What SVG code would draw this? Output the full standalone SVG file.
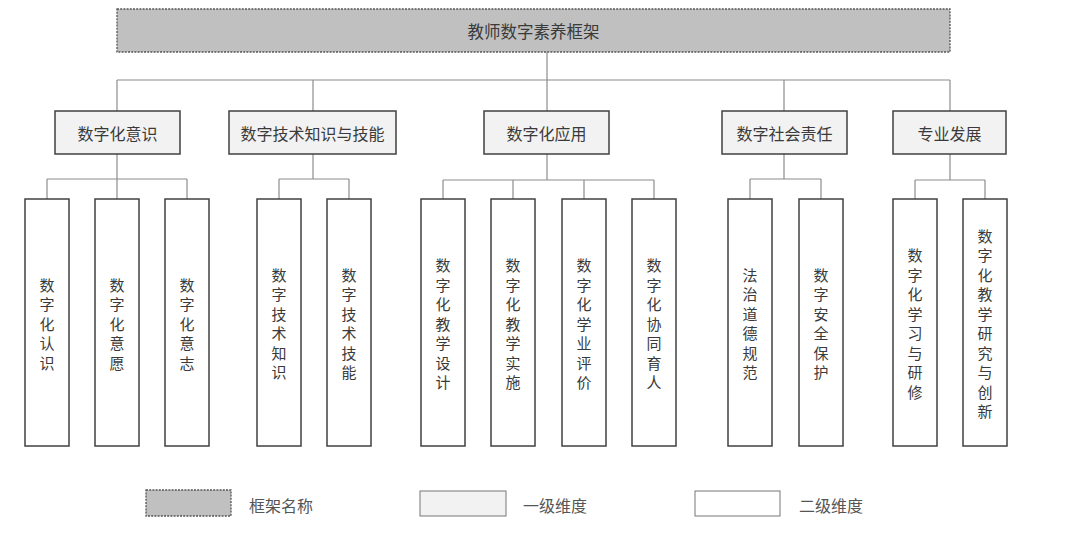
<svg xmlns="http://www.w3.org/2000/svg" width="1072" height="542" viewBox="0 0 1072 542">
<style>
.conn line{stroke:#8c8c8c;stroke-width:1.2;}
.top{fill:#c0c0c0;stroke:#555;stroke-width:1.3;stroke-dasharray:2 1.2;}
.l1{fill:#f2f2f2;stroke:#404040;stroke-width:1.5;}
.l2{fill:#fff;stroke:#404040;stroke-width:1.5;}
.lg1{fill:#f2f2f2;stroke:#777;stroke-width:1;}
.lg2{fill:#fff;stroke:#777;stroke-width:1;}
text{font-family:"Noto Sans CJK SC","Noto Sans CJK JP",sans-serif;fill:#3a3a3a;font-size:16px;}
.h{text-anchor:middle;dominant-baseline:central;}
.v{font-size:15px;text-anchor:middle;dominant-baseline:central;}
.lt{fill:#555;dominant-baseline:central;}
</style>
<rect width="1072" height="542" fill="#fff"/>
<g id="connectors" class="conn">
<line x1="547" y1="52" x2="547" y2="111"/>
<line x1="117" y1="80" x2="950" y2="80"/>
<line x1="117" y1="80" x2="117" y2="111"/>
<line x1="313" y1="80" x2="313" y2="111"/>
<line x1="784" y1="80" x2="784" y2="111"/>
<line x1="950" y1="80" x2="950" y2="111"/>
<line x1="117" y1="154" x2="117" y2="179"/>
<line x1="47" y1="179" x2="187" y2="179"/>
<line x1="47" y1="179" x2="47" y2="199"/>
<line x1="117" y1="179" x2="117" y2="199"/>
<line x1="187" y1="179" x2="187" y2="199"/>
<line x1="313" y1="154" x2="313" y2="179"/>
<line x1="279" y1="179" x2="349" y2="179"/>
<line x1="279" y1="179" x2="279" y2="199"/>
<line x1="349" y1="179" x2="349" y2="199"/>
<line x1="547" y1="154" x2="547" y2="180"/>
<line x1="443" y1="180" x2="654" y2="180"/>
<line x1="443" y1="180" x2="443" y2="199"/>
<line x1="513" y1="180" x2="513" y2="199"/>
<line x1="584" y1="180" x2="584" y2="199"/>
<line x1="654" y1="180" x2="654" y2="199"/>
<line x1="784" y1="154" x2="784" y2="179"/>
<line x1="750" y1="179" x2="821" y2="179"/>
<line x1="750" y1="179" x2="750" y2="199"/>
<line x1="821" y1="179" x2="821" y2="199"/>
<line x1="950" y1="154" x2="950" y2="180"/>
<line x1="915" y1="180" x2="985" y2="180"/>
<line x1="915" y1="180" x2="915" y2="199"/>
<line x1="985" y1="180" x2="985" y2="199"/>
</g>
<g id="root">
<rect class="top" x="117" y="9" width="833" height="43"/>
<text class="h" x="533.5" y="31" style="font-size:16.5px">教师数字素养框架</text>
</g>
<g id="d1">
<rect class="l1" x="55" y="111" width="125" height="43"/>
<text class="h" x="117.5" y="133">数字化意识</text>
</g>
<g id="d2">
<rect class="l1" x="229" y="111" width="167" height="43"/>
<text class="h" x="312.5" y="133">数字技术知识与技能</text>
</g>
<g id="d3">
<rect class="l1" x="484" y="111" width="125" height="43"/>
<text class="h" x="546.5" y="133">数字化应用</text>
</g>
<g id="d4">
<rect class="l1" x="722" y="111" width="125" height="43"/>
<text class="h" x="784.5" y="133">数字社会责任</text>
</g>
<g id="d5">
<rect class="l1" x="893" y="111" width="113" height="43"/>
<text class="h" x="949.5" y="133">专业发展</text>
</g>
<g id="s1">
<rect class="l2" x="25" y="199" width="44" height="247"/>
<text class="v"><tspan x="47" y="283.5">数</tspan><tspan x="47" y="303">字</tspan><tspan x="47" y="322.5">化</tspan><tspan x="47" y="342">认</tspan><tspan x="47" y="361.5">识</tspan></text>
</g>
<g id="s2">
<rect class="l2" x="95" y="199" width="44" height="247"/>
<text class="v"><tspan x="117" y="283.5">数</tspan><tspan x="117" y="303">字</tspan><tspan x="117" y="322.5">化</tspan><tspan x="117" y="342">意</tspan><tspan x="117" y="361.5">愿</tspan></text>
</g>
<g id="s3">
<rect class="l2" x="165" y="199" width="44" height="247"/>
<text class="v"><tspan x="187" y="283.5">数</tspan><tspan x="187" y="303">字</tspan><tspan x="187" y="322.5">化</tspan><tspan x="187" y="342">意</tspan><tspan x="187" y="361.5">志</tspan></text>
</g>
<g id="s4">
<rect class="l2" x="257" y="199" width="44" height="247"/>
<text class="v"><tspan x="279" y="273.75">数</tspan><tspan x="279" y="293.25">字</tspan><tspan x="279" y="312.75">技</tspan><tspan x="279" y="332.25">术</tspan><tspan x="279" y="351.75">知</tspan><tspan x="279" y="371.25">识</tspan></text>
</g>
<g id="s5">
<rect class="l2" x="327" y="199" width="44" height="247"/>
<text class="v"><tspan x="349" y="273.75">数</tspan><tspan x="349" y="293.25">字</tspan><tspan x="349" y="312.75">技</tspan><tspan x="349" y="332.25">术</tspan><tspan x="349" y="351.75">技</tspan><tspan x="349" y="371.25">能</tspan></text>
</g>
<g id="s6">
<rect class="l2" x="421" y="199" width="44" height="247"/>
<text class="v"><tspan x="443" y="264">数</tspan><tspan x="443" y="283.5">字</tspan><tspan x="443" y="303">化</tspan><tspan x="443" y="322.5">教</tspan><tspan x="443" y="342">学</tspan><tspan x="443" y="361.5">设</tspan><tspan x="443" y="381">计</tspan></text>
</g>
<g id="s7">
<rect class="l2" x="491" y="199" width="44" height="247"/>
<text class="v"><tspan x="513" y="264">数</tspan><tspan x="513" y="283.5">字</tspan><tspan x="513" y="303">化</tspan><tspan x="513" y="322.5">教</tspan><tspan x="513" y="342">学</tspan><tspan x="513" y="361.5">实</tspan><tspan x="513" y="381">施</tspan></text>
</g>
<g id="s8">
<rect class="l2" x="562" y="199" width="44" height="247"/>
<text class="v"><tspan x="584" y="264">数</tspan><tspan x="584" y="283.5">字</tspan><tspan x="584" y="303">化</tspan><tspan x="584" y="322.5">学</tspan><tspan x="584" y="342">业</tspan><tspan x="584" y="361.5">评</tspan><tspan x="584" y="381">价</tspan></text>
</g>
<g id="s9">
<rect class="l2" x="632" y="199" width="44" height="247"/>
<text class="v"><tspan x="654" y="264">数</tspan><tspan x="654" y="283.5">字</tspan><tspan x="654" y="303">化</tspan><tspan x="654" y="322.5">协</tspan><tspan x="654" y="342">同</tspan><tspan x="654" y="361.5">育</tspan><tspan x="654" y="381">人</tspan></text>
</g>
<g id="s10">
<rect class="l2" x="728" y="199" width="44" height="247"/>
<text class="v"><tspan x="750" y="273.75">法</tspan><tspan x="750" y="293.25">治</tspan><tspan x="750" y="312.75">道</tspan><tspan x="750" y="332.25">德</tspan><tspan x="750" y="351.75">规</tspan><tspan x="750" y="371.25">范</tspan></text>
</g>
<g id="s11">
<rect class="l2" x="799" y="199" width="44" height="247"/>
<text class="v"><tspan x="821" y="273.75">数</tspan><tspan x="821" y="293.25">字</tspan><tspan x="821" y="312.75">安</tspan><tspan x="821" y="332.25">全</tspan><tspan x="821" y="351.75">保</tspan><tspan x="821" y="371.25">护</tspan></text>
</g>
<g id="s12">
<rect class="l2" x="893" y="199" width="44" height="247"/>
<text class="v"><tspan x="915" y="254.25">数</tspan><tspan x="915" y="273.75">字</tspan><tspan x="915" y="293.25">化</tspan><tspan x="915" y="312.75">学</tspan><tspan x="915" y="332.25">习</tspan><tspan x="915" y="351.75">与</tspan><tspan x="915" y="371.25">研</tspan><tspan x="915" y="390.75">修</tspan></text>
</g>
<g id="s13">
<rect class="l2" x="963" y="199" width="44" height="247"/>
<text class="v"><tspan x="985" y="234.75">数</tspan><tspan x="985" y="254.25">字</tspan><tspan x="985" y="273.75">化</tspan><tspan x="985" y="293.25">教</tspan><tspan x="985" y="312.75">学</tspan><tspan x="985" y="332.25">研</tspan><tspan x="985" y="351.75">究</tspan><tspan x="985" y="371.25">与</tspan><tspan x="985" y="390.75">创</tspan><tspan x="985" y="410.25">新</tspan></text>
</g>
<g id="legend">
<rect class="top" x="146" y="490" width="85" height="26"/>
<text class="lt" x="249" y="505">框架名称</text>
<rect class="lg1" x="420" y="491" width="86" height="25"/>
<text class="lt" x="523" y="505">一级维度</text>
<rect class="lg2" x="695" y="491" width="85" height="25"/>
<text class="lt" x="799" y="505">二级维度</text>
</g>
</svg>
